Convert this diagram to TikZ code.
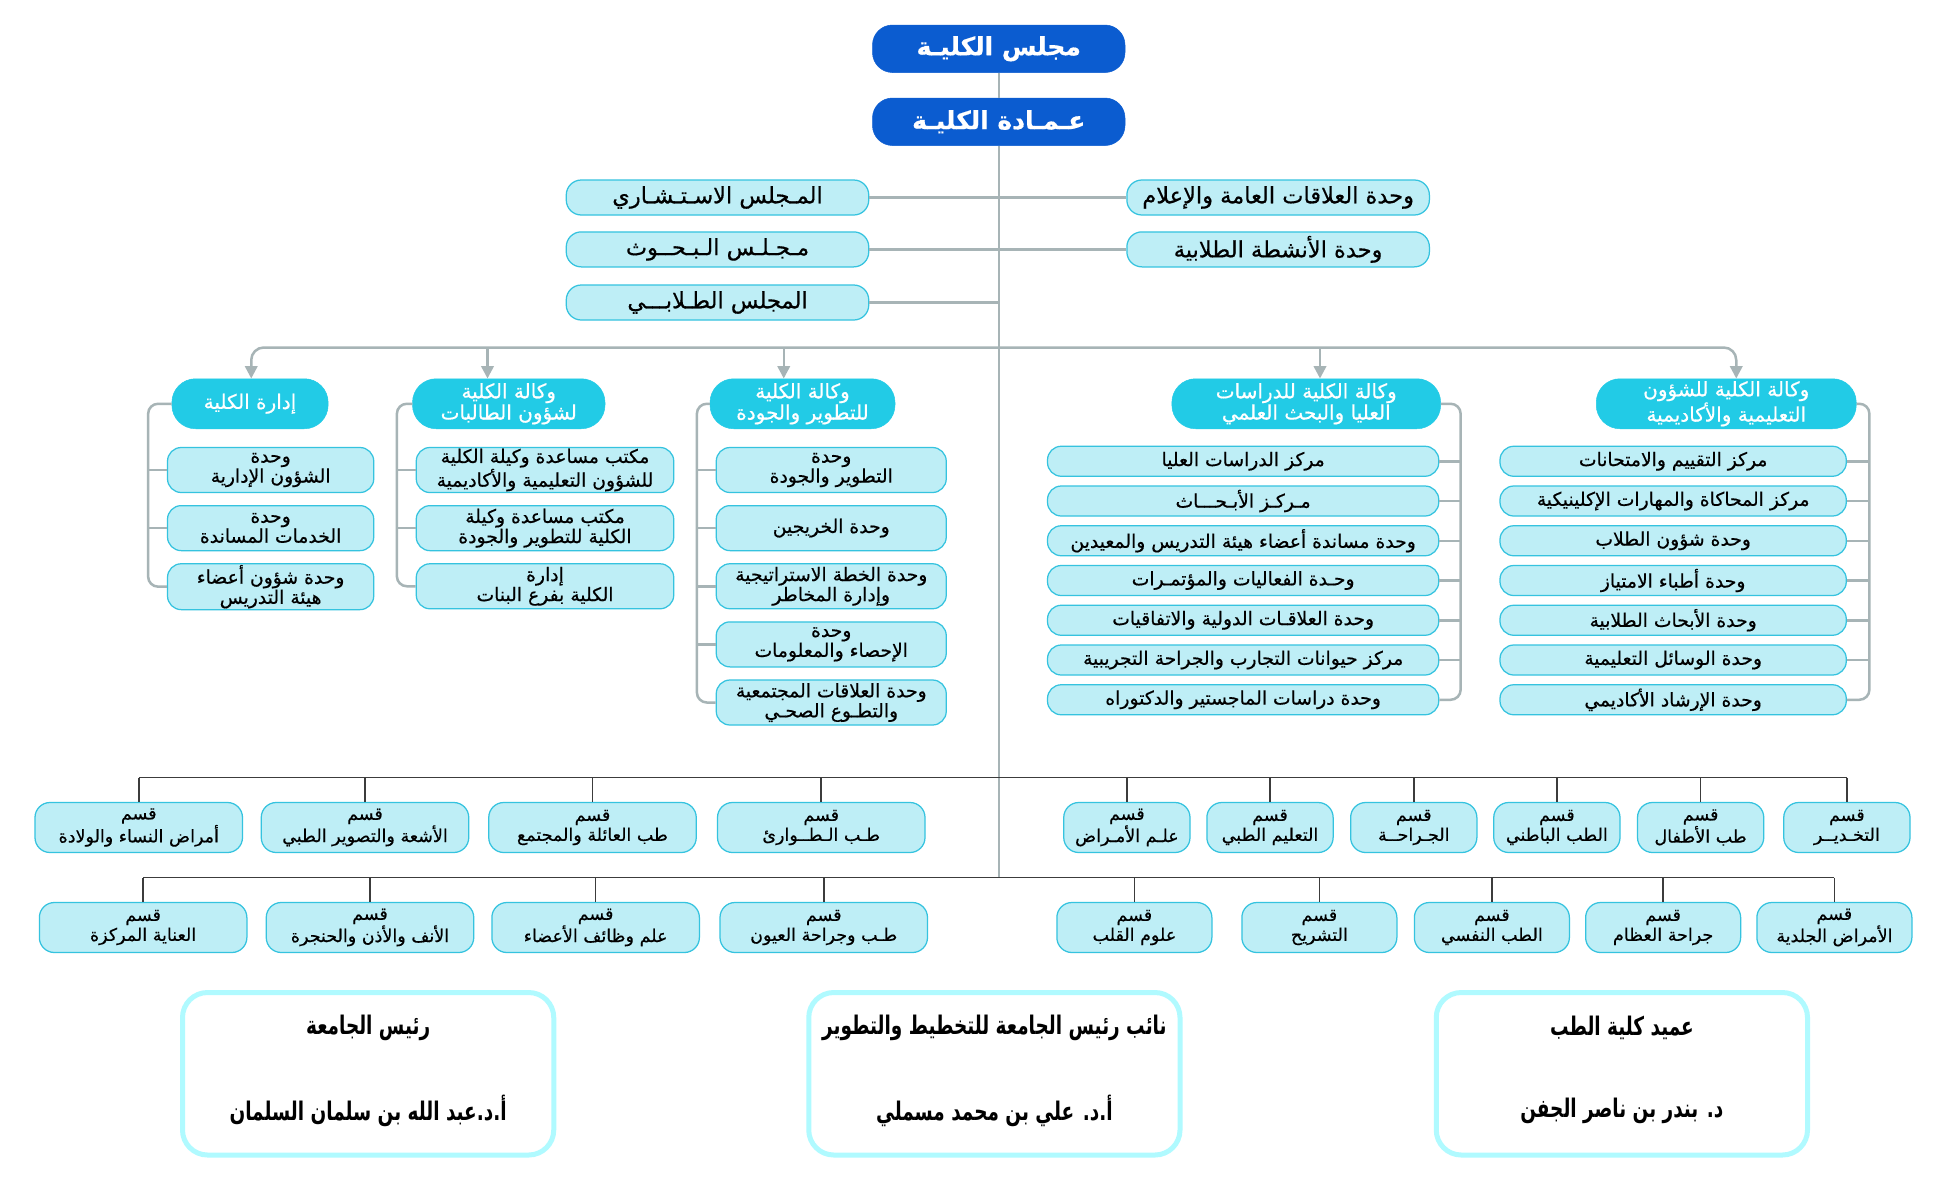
\documentclass[tikz,border=0pt]{standalone}
\usepackage{fontspec}
\newfontfamily\arfont[Script=Arabic,FakeBold=0.5]{DejaVu Sans}
\newfontfamily\arcond[Script=Arabic,FakeStretch=0.72]{DejaVu Sans}
\TeXXeTstate=1
\usetikzlibrary{
    arrows.meta,
    positioning,
    calc
}
\definecolor{topcol}{HTML}{0B5CD0}
\definecolor{vicecol}{HTML}{22CBE6}
\definecolor{boxcol}{HTML}{BEEEF6}
\definecolor{edgecol}{HTML}{35C3DF}
\definecolor{linecol}{HTML}{A7B4B6}
\definecolor{deptline}{HTML}{3C3C3C}
\definecolor{signcol}{HTML}{B0FAFF}
\newcommand{\artxt}[1]{\beginR #1\endR}

\begin{document}
\begin{tikzpicture}[
    x=1pt, y=-1pt,
    % ── Node Styles ──
    topbox/.style={
        draw=topcol, fill=topcol, text=white, rounded corners=16pt,
        minimum width=202pt, minimum height=38pt, inner sep=2pt,
        font=\arfont\bfseries\fontsize{20}{22}\selectfont
    },
    council/.style={
        draw=edgecol, line width=1pt, fill=boxcol, rounded corners=12pt,
        minimum width=242pt, minimum height=28pt, inner sep=2pt,
        font=\arfont\fontsize{18}{20}\selectfont
    },
    vice/.style={
        draw=vicecol, fill=vicecol, text=white, rounded corners=19pt,
        minimum height=40pt, align=center, inner sep=1pt,
        font=\arfont\fontsize{16}{17}\selectfont
    },
    unitbox/.style={
        draw=edgecol, line width=1pt, fill=boxcol, rounded corners=11pt,
        minimum height=36pt, align=center, inner sep=1pt,
        font=\arfont\fontsize{15}{14}\selectfont
    },
    lunit/.style={unitbox, minimum height=24pt},
    dept/.style={
        draw=edgecol, line width=1pt, fill=boxcol, rounded corners=12pt,
        minimum height=40pt, align=center, inner sep=1pt,
        font=\arfont\fontsize{14}{16}\selectfont
    },
    signbox/.style={
        draw=signcol, line width=4pt, fill=white, rounded corners=20pt,
        minimum width=297pt, minimum height=130pt
    },
    signtxt/.style={font=\arcond\bfseries\fontsize{20.5}{22}\selectfont},
    % ── Line Styles ──
    gl/.style={draw=linecol, line width=2pt},
    brk/.style={gl, rounded corners=8pt},
    arr/.style={gl, -{Triangle[width=10pt,length=10pt]}},
    dl/.style={draw=deptline, line width=1.3pt},
]

\path[fill=white] (0,0) rectangle (1560,945);

% ────────────────────────────────
%  COUNCIL AND DEANSHIP
% ────────────────────────────────
\node[topbox] (mc) at (799, 39) {\artxt{مجلس الكليـة}};
\node[topbox, below=20pt of mc] (dean) {\artxt{عـمـادة الكليـة}};

\coordinate (jn) at (799, 278);
\coordinate (bs1) at (799, 622);
\coordinate (bs2) at (799, 702);

\draw[gl] (mc) -- (dean);
\draw[gl] (dean) -- (bs2);

% ── Side councils ──
\node[council] (adv) at (574, 158) {\artxt{المـجلس الاسـتـشـاري}};
\node[council] (res) at (574, 199.5) {\artxt{مـجـلـس الـبـحــوث}};
\node[council] (stu) at (574, 242) {\artxt{المجلس الطـلابـــي}};

\node[council] (pr) at (1022.5, 158) {\artxt{وحدة العلاقات العامة والإعلام}};
\node[council] (act) at (1022.5, 199.5) {\artxt{وحدة الأنشطة الطلابية}};

\draw[gl] (adv.east) -- (adv.east -| dean.south);
\draw[gl] (res.east) -- (res.east -| dean.south);
\draw[gl] (stu.east) -- (stu.east -| dean.south);
\draw[gl] (pr.west) -- (pr.west -| dean.south);
\draw[gl] (act.west) -- (act.west -| dean.south);

% ────────────────────────────────
%  VICE DEANSHIPS
% ────────────────────────────────
\node[vice, minimum width=125pt] (v1) at (200, 323) {\artxt{إدارة الكلية}};
\node[vice, minimum width=154pt] (v2) at (407, 323) {
    \artxt{وكالة الكلية}\\\artxt{لشؤون الطالبات}};
\node[vice, minimum width=148pt] (v3) at (642, 323) {
    \artxt{وكالة الكلية}\\\artxt{للتطوير والجودة}};
\node[vice, minimum width=215pt] (v4) at (1045, 323) {
    \artxt{وكالة الكلية للدراسات}\\\artxt{العليا والبحث العلمي}};
\node[vice, minimum width=208pt] (v5) at (1381, 323) {
    \artxt{وكالة الكلية للشؤون}\\\artxt{التعليمية والأكاديمية}};

% Branch with arrows
\draw[arr, rounded corners=10pt] (jn) -| ([xshift=1pt]v1.north);
\draw[arr, rounded corners=10pt] (jn) -| ([xshift=8pt]v5.north);
\draw[arr] ([xshift=-17pt]v2.north |- jn) -- ([xshift=-17pt]v2.north);
\draw[arr] ([xshift=-15pt]v3.north |- jn) -- ([xshift=-15pt]v3.north);
\draw[arr] ([xshift=11pt]v4.north |- jn) -- ([xshift=11pt]v4.north);

% ────────────────────────────────
%  UNITS (columns 1–3, bracket on the left)
% ────────────────────────────────
\node[unitbox, minimum width=165pt] (u11) at (216.5, 376) {
    \artxt{وحدة}\\\artxt{الشؤون الإدارية}};
\node[unitbox, minimum width=165pt, below=9.5pt of u11] (u12) {
    \artxt{وحدة}\\\artxt{الخدمات المساندة}};
\node[unitbox, minimum width=165pt, below=9.5pt of u12] (u13) {
    \artxt{وحدة شؤون أعضاء}\\\artxt{هيئة التدريس}};

\node[unitbox, minimum width=206pt] (u21) at (436, 376) {
    \artxt{مكتب مساعدة وكيلة الكلية}\\\artxt{للشؤون التعليمية والأكاديمية}};
\node[unitbox, minimum width=206pt, below=9.5pt of u21] (u22) {
    \artxt{مكتب مساعدة وكيلة}\\\artxt{الكلية للتطوير والجودة}};
\node[unitbox, minimum width=206pt, below=9.5pt of u22] (u23) {
    \artxt{إدارة}\\\artxt{الكلية بفرع البنات}};

\node[unitbox, minimum width=184pt] (u31) at (665, 376) {
    \artxt{وحدة}\\\artxt{التطوير والجودة}};
\node[unitbox, minimum width=184pt, below=9.5pt of u31] (u32) {
    \artxt{وحدة الخريجين}};
\node[unitbox, minimum width=184pt, below=9.5pt of u32] (u33) {
    \artxt{وحدة الخطة الاستراتيجية}\\\artxt{وإدارة المخاطر}};
\node[unitbox, minimum width=184pt, below=9.5pt of u33] (u34) {
    \artxt{وحدة}\\\artxt{الإحصاء والمعلومات}};
\node[unitbox, minimum width=184pt, below=9.5pt of u34] (u35) {
    \artxt{وحدة العلاقات المجتمعية}\\\artxt{والتطـوع الصحـي}};

\draw[brk] (v1.west) -| ([xshift=-15pt]u13.west) -- (u13.west);
\draw[gl] ([xshift=-15pt]u11.west) -- (u11.west);
\draw[gl] ([xshift=-15pt]u12.west) -- (u12.west);

\draw[brk] (v2.west) -| ([xshift=-15pt]u23.west) -- (u23.west);
\draw[gl] ([xshift=-15pt]u21.west) -- (u21.west);
\draw[gl] ([xshift=-15pt]u22.west) -- (u22.west);

\draw[brk] (v3.west) -| ([xshift=-15pt]u35.west) -- (u35.west);
\draw[gl] ([xshift=-15pt]u31.west) -- (u31.west);
\draw[gl] ([xshift=-15pt]u32.west) -- (u32.west);
\draw[gl] ([xshift=-15pt]u33.west) -- (u33.west);
\draw[gl] ([xshift=-15pt]u34.west) -- (u34.west);

% ────────────────────────────────
%  UNITS (columns 4–5, bracket on the right)
% ────────────────────────────────
\node[lunit, minimum width=313pt] (u41) at (994.5, 369) {\artxt{مركز الدراسات العليا}};
\node[lunit, minimum width=313pt, below=6.8pt of u41] (u42) {\artxt{مـركـز الأبـحـــاث}};
\node[lunit, minimum width=313pt, below=6.8pt of u42] (u43) {\artxt{وحدة مساندة أعضاء هيئة التدريس والمعيدين}};
\node[lunit, minimum width=313pt, below=6.8pt of u43] (u44) {\artxt{وحـدة الفعاليات والمؤتمـرات}};
\node[lunit, minimum width=313pt, below=6.8pt of u44] (u45) {\artxt{وحدة العلاقـات الدولية والاتفاقيات}};
\node[lunit, minimum width=313pt, below=6.8pt of u45] (u46) {\artxt{مركز حيوانات التجارب والجراحة التجريبية}};
\node[lunit, minimum width=313pt, below=6.8pt of u46] (u47) {\artxt{وحدة دراسات الماجستير والدكتوراه}};

\node[lunit, minimum width=277pt] (u51) at (1338.5, 369) {\artxt{مركز التقييم والامتحانات}};
\node[lunit, minimum width=277pt, below=6.8pt of u51] (u52) {\artxt{مركز المحاكاة والمهارات الإكلينيكية}};
\node[lunit, minimum width=277pt, below=6.8pt of u52] (u53) {\artxt{وحدة شؤون الطلاب}};
\node[lunit, minimum width=277pt, below=6.8pt of u53] (u54) {\artxt{وحدة أطباء الامتياز}};
\node[lunit, minimum width=277pt, below=6.8pt of u54] (u55) {\artxt{وحدة الأبحاث الطلابية}};
\node[lunit, minimum width=277pt, below=6.8pt of u55] (u56) {\artxt{وحدة الوسائل التعليمية}};
\node[lunit, minimum width=277pt, below=6.8pt of u56] (u57) {\artxt{وحدة الإرشاد الأكاديمي}};

\draw[brk] (v4.east) -| ([xshift=17pt]u47.east) -- (u47.east);
\draw[gl] ([xshift=17pt]u41.east) -- (u41.east);
\draw[gl] ([xshift=17pt]u42.east) -- (u42.east);
\draw[gl] ([xshift=17pt]u43.east) -- (u43.east);
\draw[gl] ([xshift=17pt]u44.east) -- (u44.east);
\draw[gl] ([xshift=17pt]u45.east) -- (u45.east);
\draw[gl] ([xshift=17pt]u46.east) -- (u46.east);

\draw[brk] (v5.east) -| ([xshift=18pt]u57.east) -- (u57.east);
\draw[gl] ([xshift=18pt]u51.east) -- (u51.east);
\draw[gl] ([xshift=18pt]u52.east) -- (u52.east);
\draw[gl] ([xshift=18pt]u53.east) -- (u53.east);
\draw[gl] ([xshift=18pt]u54.east) -- (u54.east);
\draw[gl] ([xshift=18pt]u55.east) -- (u55.east);
\draw[gl] ([xshift=18pt]u56.east) -- (u56.east);

% ────────────────────────────────
%  DEPARTMENTS (two rows)
% ────────────────────────────────
\node[dept, minimum width=166pt] (d11) at (111, 662) {\artxt{قسم}\\\artxt{أمراض النساء والولادة}};
\node[dept, minimum width=166pt] (d12) at (292, 662) {\artxt{قسم}\\\artxt{الأشعة والتصوير الطبي}};
\node[dept, minimum width=166pt] (d13) at (474, 662) {\artxt{قسم}\\\artxt{طب العائلة والمجتمع}};
\node[dept, minimum width=166pt] (d14) at (657, 662) {\artxt{قسم}\\\artxt{طـب الـطــوارئ}};
\node[dept, minimum width=101pt] (d15) at (901.5, 662) {\artxt{قسم}\\\artxt{علـم الأمـراض}};
\node[dept, minimum width=101pt] (d16) at (1016, 662) {\artxt{قسم}\\\artxt{التعليم الطبي}};
\node[dept, minimum width=101pt] (d17) at (1131, 662) {\artxt{قسم}\\\artxt{الجـراحــة}};
\node[dept, minimum width=101pt] (d18) at (1245.5, 662) {\artxt{قسم}\\\artxt{الطب الباطني}};
\node[dept, minimum width=101pt] (d19) at (1360.5, 662) {\artxt{قسم}\\\artxt{طب الأطفال}};
\node[dept, minimum width=101pt] (d110) at (1477.5, 662) {\artxt{قسم}\\\artxt{التخـديــر}};

\node[dept, minimum width=166pt] (d21) at (114.5, 742) {\artxt{قسم}\\\artxt{العناية المركزة}};
\node[dept, minimum width=166pt] (d22) at (296, 742) {\artxt{قسم}\\\artxt{الأنف والأذن والحنجرة}};
\node[dept, minimum width=166pt] (d23) at (476.5, 742) {\artxt{قسم}\\\artxt{علم وظائف الأعضاء}};
\node[dept, minimum width=166pt] (d24) at (659, 742) {\artxt{قسم}\\\artxt{طـب وجراحة العيون}};
\node[dept, minimum width=124pt] (d25) at (907.5, 742) {\artxt{قسم}\\\artxt{علوم القلب}};
\node[dept, minimum width=124pt] (d26) at (1055.5, 742) {\artxt{قسم}\\\artxt{التشريح}};
\node[dept, minimum width=124pt] (d27) at (1193.5, 742) {\artxt{قسم}\\\artxt{الطب النفسي}};
\node[dept, minimum width=124pt] (d28) at (1330.5, 742) {\artxt{قسم}\\\artxt{جراحة العظام}};
\node[dept, minimum width=124pt] (d29) at (1467.5, 742) {\artxt{قسم}\\\artxt{الأمراض الجلدية}};

% Bus lines
\draw[dl] (d11.north |- bs1) -- (d110.north |- bs1);
\draw[dl] (d11.north |- bs1) -- (d11.north);
\draw[dl] (d12.north |- bs1) -- (d12.north);
\draw[dl] (d13.north |- bs1) -- (d13.north);
\draw[dl] (d14.north |- bs1) -- (d14.north);
\draw[dl] (d15.north |- bs1) -- (d15.north);
\draw[dl] (d16.north |- bs1) -- (d16.north);
\draw[dl] (d17.north |- bs1) -- (d17.north);
\draw[dl] (d18.north |- bs1) -- (d18.north);
\draw[dl] (d19.north |- bs1) -- (d19.north);
\draw[dl] (d110.north |- bs1) -- (d110.north);

\draw[dl] (d21.north |- bs2) -- (d29.north |- bs2);
\draw[dl] (d21.north |- bs2) -- (d21.north);
\draw[dl] (d22.north |- bs2) -- (d22.north);
\draw[dl] (d23.north |- bs2) -- (d23.north);
\draw[dl] (d24.north |- bs2) -- (d24.north);
\draw[dl] (d25.north |- bs2) -- (d25.north);
\draw[dl] (d26.north |- bs2) -- (d26.north);
\draw[dl] (d27.north |- bs2) -- (d27.north);
\draw[dl] (d28.north |- bs2) -- (d28.north);
\draw[dl] (d29.north |- bs2) -- (d29.north);

% ────────────────────────────────
%  SIGNATURES
% ────────────────────────────────
\node[signbox] (s1) at (294.5, 859) {};
\node[signbox] (s2) at (795.5, 859) {};
\node[signbox] (s3) at (1297.5, 859) {};

\node[signtxt] (s1t) at ([yshift=37pt]s1.center) {\artxt{رئيس الجامعة}};
\node[signtxt] (s1n) at ([yshift=-30pt]s1.center) {\artxt{أ.د.عبد الله بن سلمان السلمان}};
\node[signtxt] (s2t) at ([yshift=37pt]s2.center) {\artxt{نائب رئيس الجامعة للتخطيط والتطوير}};
\node[signtxt] (s2n) at ([yshift=-30pt]s2.center) {\artxt{أ.د. علي بن محمد مسملي}};
\node[signtxt] (s3t) at ([yshift=37pt]s3.center) {\artxt{عميد كلية الطب}};
\node[signtxt] (s3n) at ([yshift=-30pt]s3.center) {\artxt{د. بندر بن ناصر الجفن}};

\end{tikzpicture}
\end{document}
